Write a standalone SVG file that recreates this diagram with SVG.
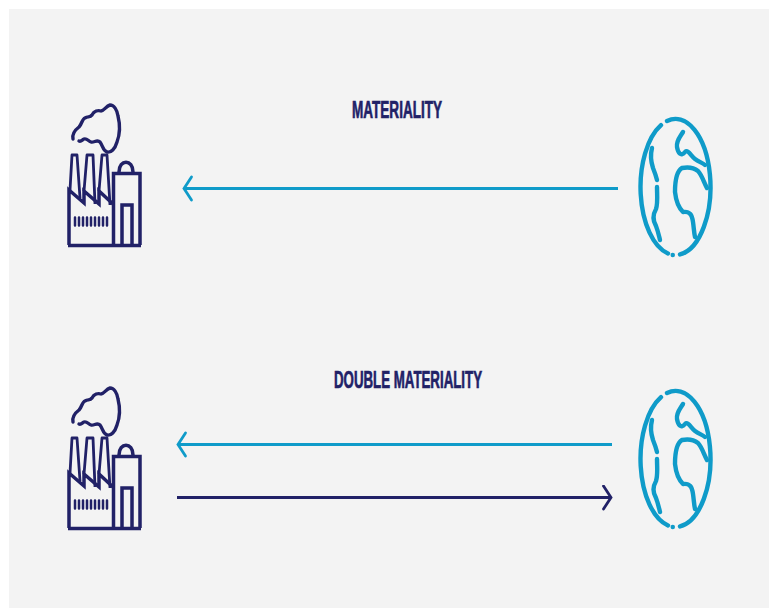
<svg xmlns="http://www.w3.org/2000/svg" width="769" height="608" viewBox="0 0 769 608">
<style>
.n{fill:none;stroke:#212167;stroke-width:3.500;stroke-linejoin:miter;stroke-linecap:butt}
.h{fill:none;stroke:#212167;stroke-width:2.800;stroke-linejoin:round;stroke-linecap:butt}
.s{fill:none;stroke:#212167;stroke-width:3.400;stroke-linejoin:round;stroke-linecap:round}
.b{fill:none;stroke:#0f9bc9;stroke-width:4.400;stroke-linecap:round;stroke-linejoin:round}
.w{stroke-width:2.500;stroke:#212167;stroke-linecap:round;fill:none}
.t{font-family:"Liberation Sans",Arial,sans-serif;font-weight:700;font-size:24.500px;fill:#212167;stroke:#212167;stroke-width:.7px}
.c{fill:none;stroke-width:3.200}
</style>
<defs>
<marker id="hb" markerUnits="userSpaceOnUse" markerWidth="14" markerHeight="30" refX="10" refY="13" orient="auto"><path d="M2.500 1.500L10 13L2.500 24.500" fill="none" stroke="#0f9bc9" stroke-width="2.800" stroke-linecap="round"/></marker>
<marker id="hn" markerUnits="userSpaceOnUse" markerWidth="14" markerHeight="30" refX="10" refY="13" orient="auto"><path d="M2.500 1.500L10 13L2.500 24.500" fill="none" stroke="#212167" stroke-width="2.800" stroke-linecap="round"/></marker>
<g id="factory">
<path class="s" d="M73 139C72 134 75 130 79 127C82 124 82 119 85 118C88 116 90 118 92 115C94 111 98 110 101 111C104 111 106 106 110 105C114 105 117 110 118 116C120 124 120 134 117 142C115 149 111 153 107 152C103 151 103 146 100 142C97 139 94 143 91 142C88 141 87 138 84 139C82 140 81 142 79 141"/>
<path class="h" d="M70 190L72 155H77L80 198M84 191L87 155H93L95 204M99 191L102 155H107L110 205"/>
<path class="n" d="M69 245V190L84 203L84 191L99 204L99 191L113 204"/>
<path class="n" d="M68 245.500H141M113.500 245V173.500H140V245"/>
<path class="n" d="M119 172C119 159 133 159 133 172"/>
<path class="n" d="M122 245V205H132V245"/>
<path class="w" d="M75 217.500V225.500M79 217.500V225.500M83 217.500V225.500M87 217.500V225.500M91 217.500V225.500M95 217.500V225.500M99 217.500V225.500M103 217.500V225.500M107 217.500V225.500"/>
</g>
<g id="globe">
<path class="b" d="M661 125.100A35 68 0 0 0 668 253.400"/>
<path class="b" d="M667 121A35 68 0 1 1 680 254.400"/>
<path class="b" d="M672.700 255L672.800 255" stroke-width="5.500"/>
<path class="b" d="M683 132C680 137 676 141 677 147C678 153 681 157 685 152C688 149 691 156 695 159C699 162 703 163 705 165"/>
<path class="b" d="M707 188C704 183 702 175 698 171C693 167 687 167 682 168C677 171 675 180 675 192C676 201 678 207 683 212C690 211 692 215 693 222C694 229 694 233 695 237"/>
<path class="b" d="M652 148C650 156 651 162 653 168C655 173 656 176 657 180"/>
<path class="b" d="M657 187C657 195 658 203 656 209C652 216 653 221 656 226C658 231 659 236 660 240"/>
</g>
</defs>
<rect width="769" height="608" fill="#ffffff"/>
<rect x="9" y="9" width="760" height="599" fill="#f3f3f3"/>
<g id="connectors">
<path class="c" stroke="#0f9bc9" d="M618 188.500H184" marker-end="url(#hb)"/>
<path class="c" stroke="#0f9bc9" d="M612 444.500H178" marker-end="url(#hb)"/>
<path class="c" stroke="#212167" d="M177 497.500H611" marker-end="url(#hn)"/>
</g>
<g id="factory-top"><use href="#factory"/></g>
<g id="globe-top"><use href="#globe"/></g>
<g id="factory-bottom"><use href="#factory" y="283"/></g>
<g id="globe-bottom"><use href="#globe" y="272"/></g>
<g id="label-materiality"><text class="t" x="352" y="117.500" textLength="90" lengthAdjust="spacingAndGlyphs">MATERIALITY</text></g>
<g id="label-double"><text class="t" x="334" y="388" textLength="148" lengthAdjust="spacingAndGlyphs">DOUBLE MATERIALITY</text></g>
</svg>
